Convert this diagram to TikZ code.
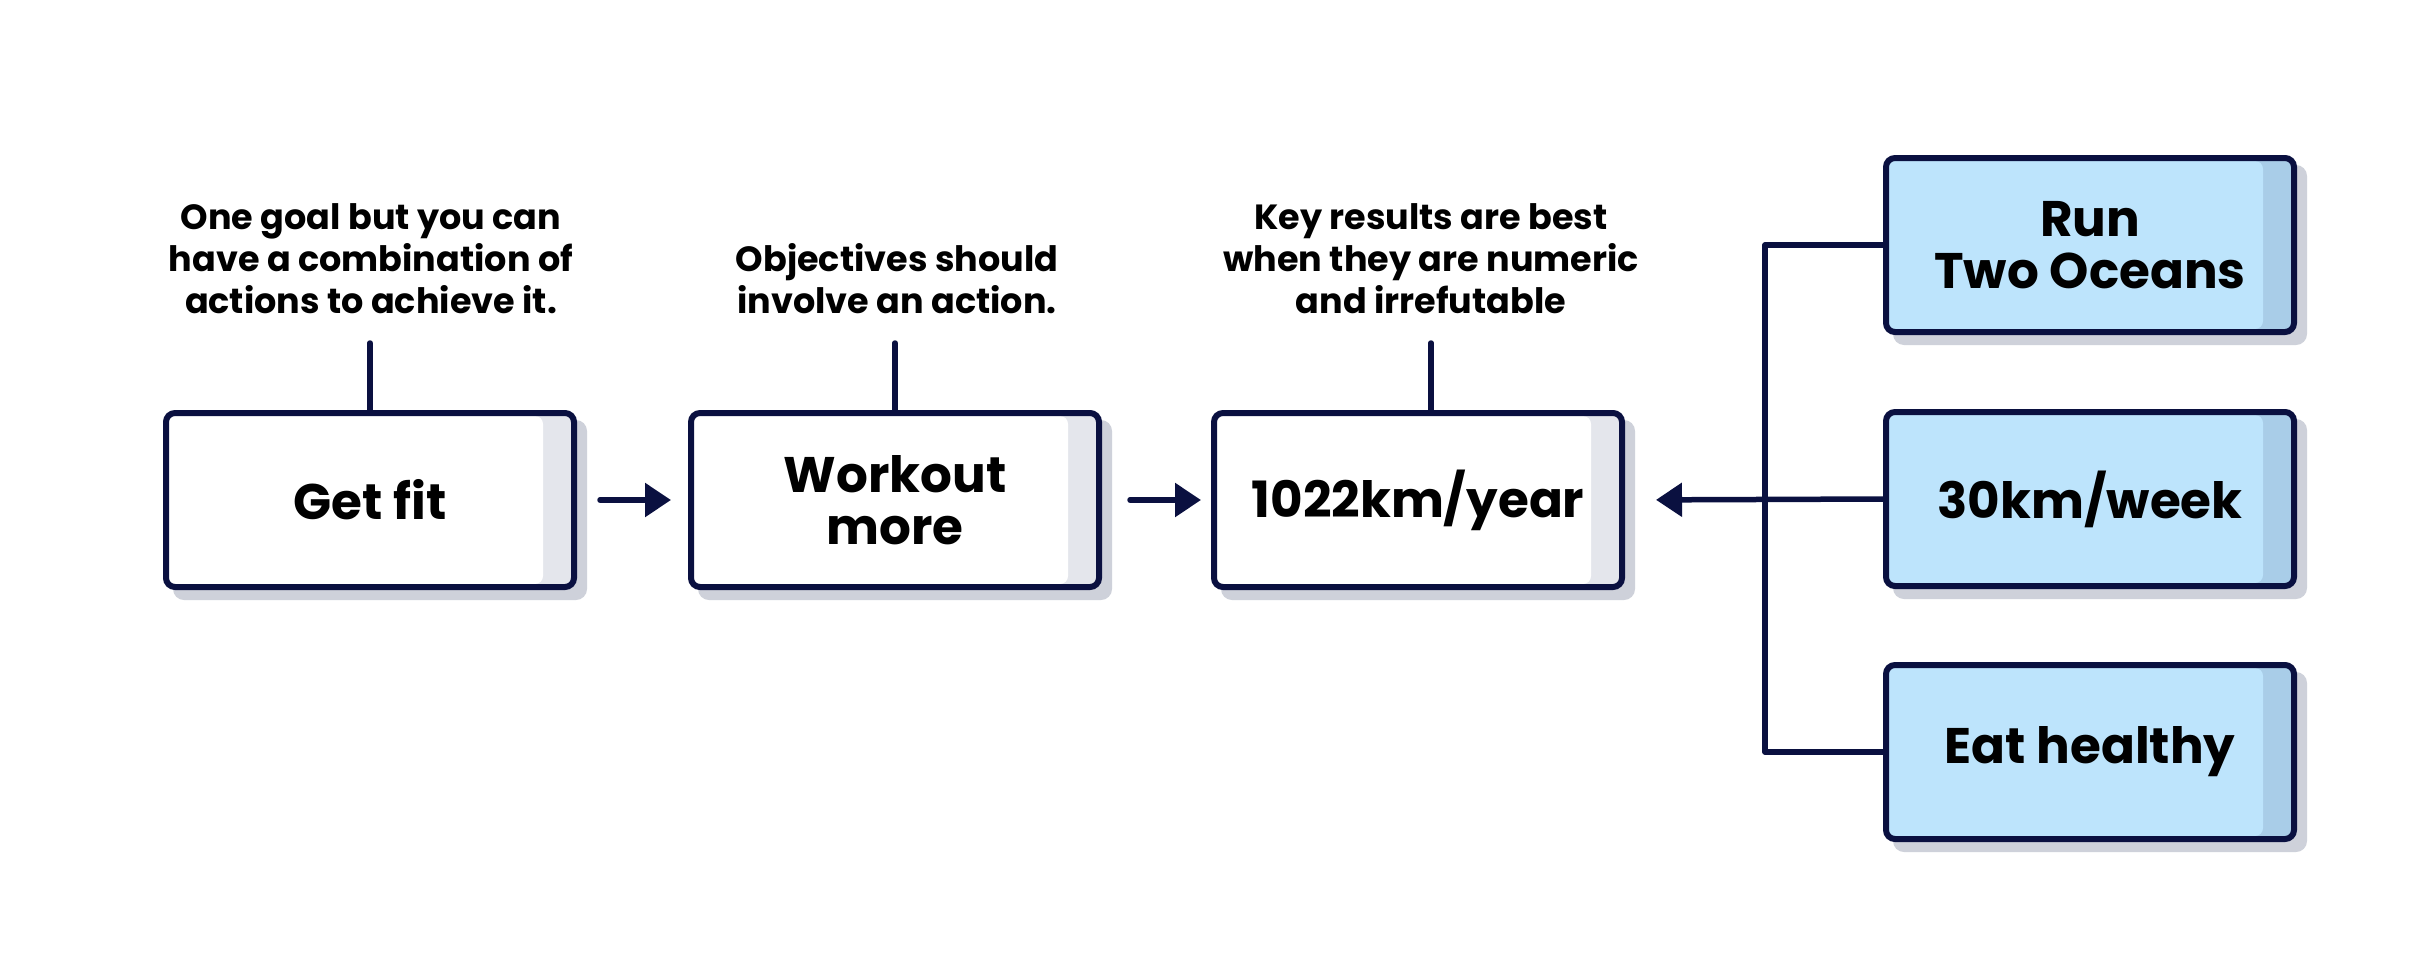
\documentclass[tikz,border=0pt]{standalone}
\usepackage{fontspec}
\setmainfont{Poppins}
\usetikzlibrary{arrows.meta,backgrounds}
\definecolor{navy}{RGB}{10,16,64}
\definecolor{shadowc}{RGB}{206,209,218}
\definecolor{bandw}{RGB}{228,230,236}
\definecolor{bluef}{RGB}{189,228,252}
\definecolor{blueb}{RGB}{169,205,232}
\tikzset{
  okrbox/.style={draw=navy, line width=6pt, rounded corners=9pt,
    minimum width=408pt, minimum height=174pt, inner sep=0pt,
    align=center, font=\fontsize{50}{52}\selectfont\bfseries, text=black},
  whitebox/.style={okrbox, fill=bandw,
    path picture={\fill[white, rounded corners=8pt]
      ([xshift=-20pt,yshift=3pt]path picture bounding box.south west) rectangle
      ([xshift=-31pt,yshift=-3pt]path picture bounding box.north east);}},
  bluebox/.style={okrbox, fill=blueb,
    path picture={\fill[bluef, rounded corners=8pt]
      ([xshift=-20pt,yshift=3pt]path picture bounding box.south west) rectangle
      ([xshift=-31pt,yshift=-3pt]path picture bounding box.north east);}},
  conn/.style={draw=navy, line width=5.5pt, line cap=round, line join=round},
  arr/.style={conn, -{Triangle[length=26pt,width=33pt]}},
  note/.style={align=center, font=\fontsize{35}{42}\selectfont\bfseries,
    inner sep=0pt, text=black},
}
\begin{document}
\begin{tikzpicture}[x=1pt,y=-1pt]
\useasboundingbox (0,0) rectangle (2421,959);

% boxes
\node[whitebox] (G) at (370,500) {Get fit};
\node[whitebox] (W) at (895,500) {Workout\\more};
\node[whitebox] (K) at (1418,500) {1022km/year};
\node[bluebox] (A) at (2090,245) {Run\\Two Oceans};
\node[bluebox] (B) at (2090,499) {30km/week};
\node[bluebox] (C) at (2090,752) {Eat healthy};

% annotations (base = baseline of last line)
\node[note, anchor=base] (n1) at (371,313) {One goal but you can\\have a combination of\\actions to achieve it.};
\node[note, anchor=base] (n2) at (897,313) {Objectives should\\involve an action.};
\node[note, anchor=base] (n3) at (1431,313) {Key results are best\\when they are numeric\\and irrefutable};

% shadows and background
\begin{scope}[on background layer]
  \fill[white] (0,0) rectangle (2421,959);
  \foreach \n in {G,W,K,A,B,C}
    \fill[shadowc, rounded corners=11pt] ([shift={(10,10)}]\n.north west) rectangle ([shift={(10,10)}]\n.south east);
\end{scope}

% connectors
\coordinate (bus) at (1765,500);
\draw[conn] (A.west) -- (A.west -| bus) -- (C.west -| bus) -- (C.west);
\draw[arr, shorten >=31pt] (B.west) -- (K.east);
\draw[arr, shorten <=23pt, shorten >=17pt] (G.east) -- (W.west);
\draw[arr, shorten <=28pt, shorten >=10pt] (W.east) -- (K.west);

\draw[conn] (G.north) -- ++(0,-67);
\draw[conn] (W.north) -- ++(0,-67);
\draw[conn] ([xshift=13pt]K.north) -- ++(0,-67);
\end{tikzpicture}
\end{document}
